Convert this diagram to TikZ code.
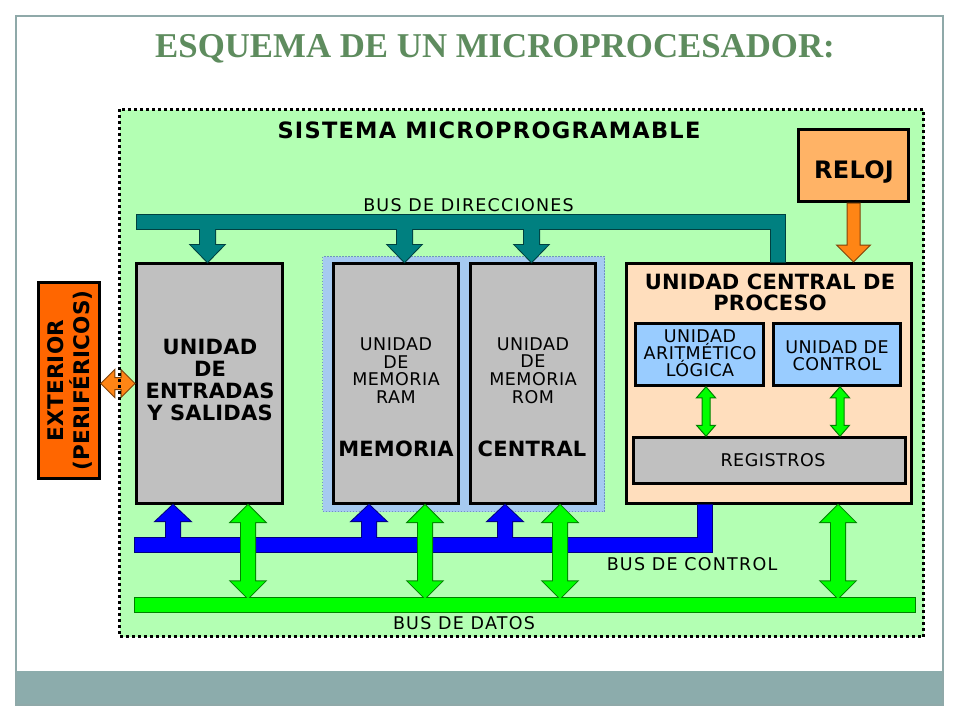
\documentclass[tikz,border=0pt]{standalone}
\usepackage{fontspec}
\setmainfont{DejaVu Sans}
\newfontfamily\regf[LetterSpace=3]{DejaVu Sans}
\newfontfamily\busf[LetterSpace=7]{DejaVu Sans}
\newfontfamily\boldf[LetterSpace=1]{DejaVu Sans}
\newfontfamily\boldw[LetterSpace=5.5]{DejaVu Sans}
\newfontfamily\titlef{Liberation Serif}
\usetikzlibrary{calc}
\definecolor{boxgray}{HTML}{C0C0C0}
\definecolor{sysgreen}{HTML}{B3FFB3}
\definecolor{memblue}{HTML}{A6CAF0}
\definecolor{memedge}{HTML}{6F93C0}
\definecolor{alublue}{HTML}{99CCFF}
\definecolor{cpupeach}{HTML}{FFDEBD}
\definecolor{relojcol}{HTML}{FFB366}
\definecolor{extcol}{HTML}{FF6600}
\definecolor{orangearr}{HTML}{FF8515}
\definecolor{busteal}{HTML}{008080}
\definecolor{busblue}{HTML}{0000FF}
\definecolor{busgreen}{HTML}{00FF00}
\definecolor{bandcol}{HTML}{8CACAC}
\definecolor{framecol}{HTML}{8FA9A9}
\definecolor{titlegreen}{HTML}{5E8C5E}
\def\arrSW{7pt}\def\arrHW{17pt}\def\arrHL{17pt}
\tikzset{
  aw/.code args={#1/#2/#3}{\def\arrSW{#1}\def\arrHW{#2}\def\arrHL{#3}},
  arrdown/.style={to path={let \p1=(\tikztostart),\p2=(\tikztotarget) in
    (\x2-\arrSW,\y1) -- (\x2-\arrSW,\y2+\arrHL) -- (\x2-\arrHW,\y2+\arrHL) -- (\x2,\y2)
    -- (\x2+\arrHW,\y2+\arrHL) -- (\x2+\arrSW,\y2+\arrHL) -- (\x2+\arrSW,\y1) -- cycle}},
  arrup/.style={to path={let \p1=(\tikztostart),\p2=(\tikztotarget) in
    (\x2-\arrSW,\y1) -- (\x2-\arrSW,\y2-\arrHL) -- (\x2-\arrHW,\y2-\arrHL) -- (\x2,\y2)
    -- (\x2+\arrHW,\y2-\arrHL) -- (\x2+\arrSW,\y2-\arrHL) -- (\x2+\arrSW,\y1) -- cycle}},
  arrboth/.style={to path={let \p1=(\tikztostart),\p2=(\tikztotarget) in
    (\x2,\y1) -- (\x2+\arrHW,\y1-\arrHL) -- (\x2+\arrSW,\y1-\arrHL) -- (\x2+\arrSW,\y2+\arrHL)
    -- (\x2+\arrHW,\y2+\arrHL) -- (\x2,\y2) -- (\x2-\arrHW,\y2+\arrHL) -- (\x2-\arrSW,\y2+\arrHL)
    -- (\x2-\arrSW,\y1-\arrHL) -- (\x2-\arrHW,\y1-\arrHL) -- cycle}},
  arrh/.style={to path={let \p1=(\tikztostart),\p2=(\tikztotarget) in
    (\x1,\y1) -- (\x1+\arrHL,\y1+\arrHW) -- (\x1+\arrHL,\y1+\arrSW) -- (\x2-\arrHL,\y1+\arrSW)
    -- (\x2-\arrHL,\y1+\arrHW) -- (\x2,\y1) -- (\x2-\arrHL,\y1-\arrHW) -- (\x2-\arrHL,\y1-\arrSW)
    -- (\x1+\arrHL,\y1-\arrSW) -- (\x1+\arrHL,\y1-\arrHW) -- cycle}},
  solo/.style={fill=#1, draw=#1!50!black, line width=1pt, line join=miter},
  box/.style={draw=black, line width=3pt, fill=boxgray, inner sep=0pt},
  inbox/.style={draw=black, line width=2.5pt, inner sep=0pt},
  txt/.style={inner sep=0pt, align=center},
  regtxt/.style={font=\regf\fontsize{17.5}{17}\selectfont},
  bustxt/.style={font=\busf\fontsize{17.5}{17}\selectfont},
  bigtxt/.style={font=\boldf\bfseries\fontsize{21}{22}\selectfont},
  busnode/.style={inner sep=0pt, minimum height=13pt},
}
\newcommand\twopass[1]{%
  \begin{scope}[pass/.style={draw=##1!50!black,line width=2pt,line join=miter}]#1\end{scope}%
  \begin{scope}[pass/.style={fill=##1}]#1\end{scope}}
\begin{document}
\begin{tikzpicture}[x=1pt,y=-1pt]
\path[use as bounding box, fill=white] (0,0) rectangle (960,720);
\fill[bandcol] (16,671) rectangle (943,705);
\draw[framecol, line width=1.2pt] (16,16) rectangle (943,705);
\node[txt, font=\titlef\bfseries\fontsize{34.8}{36}\selectfont, text=titlegreen, anchor=base] (title) at (495,57) {ESQUEMA DE UN MICROPROCESADOR:};

% system area
\node[inner sep=0pt, fill=sysgreen, minimum width=804pt, minimum height=527pt] (sys) at (521.5,373) {};
\node[txt, font=\boldw\bfseries\fontsize{22.5}{24}\selectfont, anchor=base] (systxt) at (489,138) {SISTEMA MICROPROGRAMABLE};

% memory group
\node[draw=memedge, line width=1.2pt, dash pattern=on 1.5pt off 1.5pt, fill=memblue, minimum width=282pt, minimum height=255pt, inner sep=0pt] (memg) at (463.5,384) {};

% boxes
\node[box, minimum width=146pt, minimum height=240pt] (io) at (209.5,383.5) {};
\node[txt, bigtxt] (iotxt) at (210,380) {UNIDAD\\DE\\ENTRADAS\\Y SALIDAS};

\node[box, minimum width=125pt, minimum height=240pt] (ram) at (396,383.5) {};
\node[txt, font=\regf\fontsize{17.5}{17.6}\selectfont] (ramtxt) at (396,370.5) {UNIDAD\\DE\\MEMORIA\\RAM};
\node[txt, bigtxt, anchor=base] (memtxt) at (396,456) {MEMORIA};

\node[box, minimum width=125pt, minimum height=240pt] (rom) at (533,383.5) {};
\node[txt, font=\regf\fontsize{17.5}{17.6}\selectfont] (romtxt) at (533,370.5) {UNIDAD\\DE\\MEMORIA\\ROM};
\node[txt, bigtxt, anchor=base] (centtxt) at (532,456) {CENTRAL};

\node[box, fill=cpupeach, minimum width=285pt, minimum height=240pt] (cpu) at (769,383.5) {};
\node[txt, font=\boldf\bfseries\fontsize{21}{21}\selectfont] (cputxt) at (770,292.5) {UNIDAD CENTRAL DE\\PROCESO};
\node[inbox, fill=alublue, minimum width=128pt, minimum height=62pt] (alu) at (699.5,354.5) {};
\node[txt, regtxt] (alutxt) at (700,353.5) {UNIDAD\\ARITMÉTICO\\LÓGICA};
\node[inbox, fill=alublue, minimum width=127pt, minimum height=62pt] (uc) at (837,354.5) {};
\node[txt, regtxt] (uctxt) at (837,355.5) {UNIDAD DE\\CONTROL};
\node[inbox, fill=boxgray, minimum width=272pt, minimum height=46pt] (regs) at (769.5,460.5) {};
\node[txt, regtxt, anchor=base] (regstxt) at (773,466) {REGISTROS};

\node[box, fill=relojcol, minimum width=110pt, minimum height=72pt] (reloj) at (853.5,165.5) {};
\node[txt, font=\boldf\bfseries\fontsize{24}{26}\selectfont, anchor=base] (relojtxt) at (854,178) {RELOJ};

\node[box, line width=2.5pt, fill=extcol, minimum width=61pt, minimum height=196pt] (ext) at (69,380.5) {};
\node[txt, rotate=90, font=\boldf\bfseries\fontsize{21.5}{26}\selectfont] (exttxt) at (70,380.5) {EXTERIOR\\(PERIFÉRICOS)};

% buses (reference nodes)
\node[busnode, minimum width=648pt] (dirbus) at (461,222) {};
\node[busnode, minimum width=577pt] (cbus) at (423.5,545) {};
\node[busnode, minimum width=780pt] (dbus) at (525,605) {};
\coordinate (t1) at (207.5,0); \coordinate (t2) at (404.5,0); \coordinate (t3) at (531.5,0);
\coordinate (b1) at (173,0); \coordinate (b2) at (369,0); \coordinate (b3) at (505,0);
\coordinate (g1) at (248,0); \coordinate (g2) at (425,0); \coordinate (g3) at (560,0); \coordinate (g4) at (838,0);
\coordinate (s1) at (706,0); \coordinate (s2) at (840,0);

\twopass{%
  \path[pass=busteal] (dirbus.north west) rectangle (dirbus.south east);
  \path[pass=busteal] (770.5,215.5) rectangle (784.5,262);
  \path[pass=busteal] (t1 |- dirbus.center) to[arrdown, aw=7.5pt/16.5pt/17pt] (t1 |- io.north);
  \path[pass=busteal] (t2 |- dirbus.center) to[arrdown, aw=7.5pt/16.5pt/17pt] (t2 |- ram.north);
  \path[pass=busteal] (t3 |- dirbus.center) to[arrdown, aw=7.5pt/16.5pt/17pt] (t3 |- rom.north);
}
\twopass{%
  \path[pass=busblue] (cbus.north west) rectangle (cbus.south east);
  \path[pass=busblue] (697.5,505) rectangle (711.5,551.5);
  \path[pass=busblue] (b1 |- cbus.center) to[arrup, aw=7pt/17pt/16pt] (b1 |- io.south);
  \path[pass=busblue] (b2 |- cbus.center) to[arrup, aw=7pt/17pt/16pt] (b2 |- ram.south);
  \path[pass=busblue] (b3 |- cbus.center) to[arrup, aw=7pt/17pt/16pt] (b3 |- rom.south);
}
\twopass{%
  \path[pass=busgreen] (dbus.north west) rectangle (dbus.south east);
  \path[pass=busgreen] (g1 |- io.south) to[arrboth, aw=7pt/17pt/17pt] (g1 |- dbus.north);
  \path[pass=busgreen] (g2 |- ram.south) to[arrboth, aw=7pt/17pt/17pt] (g2 |- dbus.north);
  \path[pass=busgreen] (g3 |- rom.south) to[arrboth, aw=7pt/17pt/17pt] (g3 |- dbus.north);
  \path[pass=busgreen] (g4 |- cpu.south) to[arrboth, aw=7pt/17pt/17pt] (g4 |- dbus.north);
}
\path[solo=busgreen] (s1 |- alu.south) to[arrboth, aw=4pt/9.5pt/11pt] (s1 |- regs.north);
\path[solo=busgreen] (s2 |- uc.south) to[arrboth, aw=4pt/9.5pt/11pt] (s2 |- regs.north);
\path[solo=orangearr] (reloj.south) to[arrdown, aw=6.5pt/17pt/17pt] (reloj.south |- cpu.north);
\path[solo=orangearr] (ext.east |- io.west) to[arrh, aw=6pt/14pt/14pt] (io.west);

% dotted border of the system
\draw[line width=3pt, dash pattern=on 3pt off 3pt] (sys.north west) rectangle (sys.south east);

% bus labels
\node[txt, bustxt, anchor=base] (lbdir) at (468.5,211) {BUS DE DIRECCIONES};
\node[txt, bustxt, anchor=base] (lbctl) at (692,570) {BUS DE CONTROL};
\node[txt, bustxt, anchor=base] (lbdat) at (464,629) {BUS DE DATOS};
\end{tikzpicture}
\end{document}
